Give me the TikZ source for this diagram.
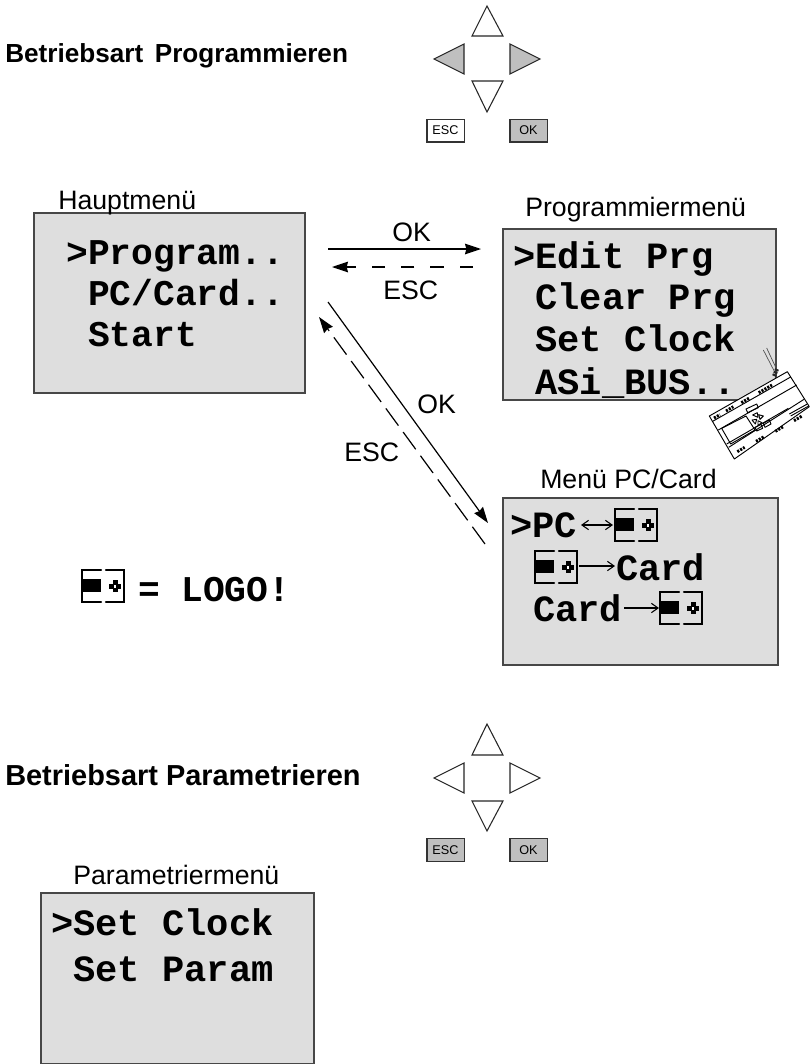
\documentclass[tikz,border=0pt]{standalone}
\usepackage{fontspec}
\setmainfont{Liberation Sans}
\newfontfamily\lcd{Liberation Mono}[BoldFont={Liberation Mono Bold}]
\usetikzlibrary{arrows.meta}
\tikzset{
  px/.style={x=0.75pt,y=-0.75pt},
  panel/.style={draw=black!72,line width=1.2pt,fill=black!13},
  lbl/.style={font=\fontsize{20}{22}\selectfont,inner sep=0pt,anchor=base west},
  headone/.style={font=\fontsize{19.6}{22}\selectfont\bfseries,inner sep=0pt,anchor=base west},
  headtwo/.style={font=\fontsize{21.7}{24}\selectfont\bfseries,inner sep=0pt,anchor=base west},
  lcdtxt/.style={font=\fontsize{27.2}{30}\selectfont\lcd\bfseries,inner sep=0pt,anchor=base west},
  lcdwide/.style={font=\fontsize{27.8}{30}\selectfont\lcd\bfseries,inner sep=0pt,anchor=base west},
  tri/.style={draw=black!85,line width=0.8pt,fill=white,line join=miter},
  trig/.style={tri,fill=black!25},
  key/.style={draw=black!80,line width=1pt,fill=white,minimum width=28pt,minimum height=17pt,inner sep=0pt,font=\fontsize{9.5}{10}\selectfont},
  keyg/.style={key,fill=black!25},
  link/.style={line width=0.9pt,-{Stealth[length=12pt,width=8pt,inset=1pt]}},
  linkd/.style={link,dash pattern=on 10pt off 12pt},
  linkdd/.style={link,dash pattern=on 16pt off 6pt},
  thinarr/.style={line width=0.8pt,-{Straight Barb[length=5pt,width=7pt]}},
  plc/.style={line width=0.7pt,draw=black,line join=round},
  term/.style={line width=2.2pt,dash pattern=on 1.6pt off 0.9pt},
  pics/logoicon/.style={code={
    \draw[line width=1.6pt,line cap=round] (19,0) -- (0,0) -- (0,32) -- (19,32);
    \draw[line width=1.6pt,line cap=round] (24,0) -- (42,0) -- (42,32) -- (24,32);
    \fill (0,9) rectangle (19,22);
    \fill (30.5,10) rectangle (35.5,22);
    \fill (27,13.5) rectangle (39,18.5);
    \fill[white] (32,14.5) rectangle (34,17.5);
  }},
}
\begin{document}
\begin{tikzpicture}[px]
\useasboundingbox (0,0) rectangle (810,1064);
% headings
\node[headone] (h1) at (5,62) {Betriebsart\, Programmieren};
\node[headtwo] (h2) at (5,785) {Betriebsart Parametrieren};
% key pads
\draw[tri] (472,36) -- (487,6) -- (503,36) -- cycle;
\draw[tri] (472,81) -- (487,112) -- (503,81) -- cycle;
\draw[trig] (464,44) -- (434,59) -- (464,74) -- cycle;
\draw[trig] (510,44) -- (540,59) -- (510,74) -- cycle;
\node[key] (esc1) at (445.5,130.5) {ESC};
\node[keyg] (ok1) at (528.5,130.5) {OK};
\draw[tri] (472,755) -- (487,724) -- (503,755) -- cycle;
\draw[tri] (472,801) -- (487,831) -- (503,801) -- cycle;
\draw[tri] (464,763) -- (434,778) -- (464,793) -- cycle;
\draw[tri] (510,763) -- (540,778) -- (510,793) -- cycle;
\node[keyg] (esc2) at (445.5,850) {ESC};
\node[keyg] (ok2) at (528.5,850) {OK};
% panels
\draw[panel] (34,213) rectangle (305,393);
\draw[panel] (503,229) rectangle (776,400);
\draw[panel] (503,498) rectangle (778,665);
\draw[panel] (41,893) rectangle (314,1064);
% labels
\node[lbl] (t1) at (58,209) {Hauptmenü};
\node[lbl] (t2) at (525,216) {Programmiermenü};
\node[lbl] (t3) at (540,488) {Menü PC/Card};
\node[lbl] (t4) at (73,884) {Parametriermenü};
% panel text
\node[lcdtxt] (a1) at (66,264) {>Program..};
\node[lcdtxt] (a2) at (66,305) {\phantom{>}PC/Card..};
\node[lcdtxt] (a3) at (66,346) {\phantom{>}Start};
\node[lcdwide] (b1) at (513,268) {>Edit Prg};
\node[lcdwide] (b2) at (513,309) {\phantom{>}Clear Prg};
\node[lcdwide] (b3) at (513,351) {\phantom{>}Set Clock};
\node[lcdwide] (b4) at (513,394) {\phantom{>}ASi\_BUS..};
\node[lcdwide] (c1) at (510,537) {>PC};
\pic at (615,509) {logoicon};
\node[lcdwide] (c2) at (616,580) {Card};
\pic at (535,551) {logoicon};
\node[lcdwide] (c3) at (533,621) {Card};
\pic at (660,592) {logoicon};
\coordinate (c1a) at (581,525); \coordinate (c1b) at (613,525);
\draw[thinarr,{Straight Barb[length=5pt,width=7pt]}-{Straight Barb[length=5pt,width=7pt]}] (c1a) -- (c1b);
\coordinate (c2a) at (579,566); \coordinate (c2b) at (615,566);
\draw[thinarr] (c2a) -- (c2b);
\coordinate (c3a) at (624,608); \coordinate (c3b) at (659,608);
\draw[thinarr] (c3a) -- (c3b);
\node[lcdwide] (d1) at (51,935) {>Set Clock};
\node[lcdwide] (d2) at (51,981) {\phantom{>}Set Param};
\pic at (82,570) {logoicon};
\node[lcdtxt] (logo1) at (138,601) {=};
\node[lcdtxt] (logo2) at (181,601) {LOGO!};
% arrows
\coordinate (p1) at (328,249); \coordinate (p2) at (481,249);
\coordinate (p3) at (473,267); \coordinate (p4) at (332,267);
\draw[link] (p1) -- (p2);
\draw[linkd] (p3) -- (p4);
\coordinate (p5) at (328,302); \coordinate (p6) at (488,523);
\coordinate (p7) at (485,544); \coordinate (p8) at (319,317);
\draw[link] (p5) -- (p6);
\draw[linkdd] (p7) -- (p8);
\node[lbl] (o1) at (392,241) {OK};
\node[lbl] (e1) at (383,299) {ESC};
\node[lbl] (o2) at (417,413) {OK};
\node[lbl] (e2) at (344,461) {ESC};
% PLC module, drawn in the 3x frame of its crop
\begin{scope}[shift={(700,340)},x=0.25pt,y=-0.25pt]
  \draw[line width=0.5pt,black!70] (190,30) -- (222,92);
  \draw[line width=0.5pt,black!70] (200,24) -- (230,88);
  \draw[line width=3pt,black!85,dash pattern=on 1.5pt off 0.6pt] (222,108) -- (232,85);
  \draw[plc,fill=white] (28,228) -- (262,95) -- (328,200) -- (103,357) -- cycle;
  \draw[plc] (38,244) -- (272,111);
  \draw[plc] (55,270) -- (290,135);
  \draw[plc] (86,322) -- (312,178);
  \draw[plc] (80,312) -- (265,205);
  \draw[term] (42,234) -- (60,224);
  \draw[term] (78,213) -- (100,200);
  \draw[term] (124,188) -- (148,174);
  \draw[term] (176,158) -- (216,135);
  \draw[term] (112,335) -- (134,322);
  \draw[term] (168,304) -- (192,290);
  \draw[term] (226,274) -- (250,260);
  \draw[term] (282,242) -- (306,228);
  \draw[plc] (65,265) -- (138,228) -- (165,270) -- (92,312) -- cycle;
  \draw[plc] (138,207) -- (170,192) -- (175,203) -- (143,218) -- cycle;
  \draw[plc] (165,262) -- (183,253) -- (188,265) -- (170,273) -- cycle;
  \draw[plc] (190,250) -- (208,240) -- (213,252) -- (195,262) -- cycle;
  \draw[plc] (158,225) -- (172,218) -- (174,232) -- cycle;
  \draw[plc] (176,224) -- (190,228) -- (180,238) -- cycle;
  \draw[plc] (156,240) -- (170,238) -- (166,252) -- cycle;
  \draw[plc] (174,242) -- (186,248) -- (174,256) -- cycle;
  \draw[plc] (268,222) -- (322,192);
  \draw[plc] (272,228) -- (326,198);
\end{scope}
\end{tikzpicture}
\end{document}
